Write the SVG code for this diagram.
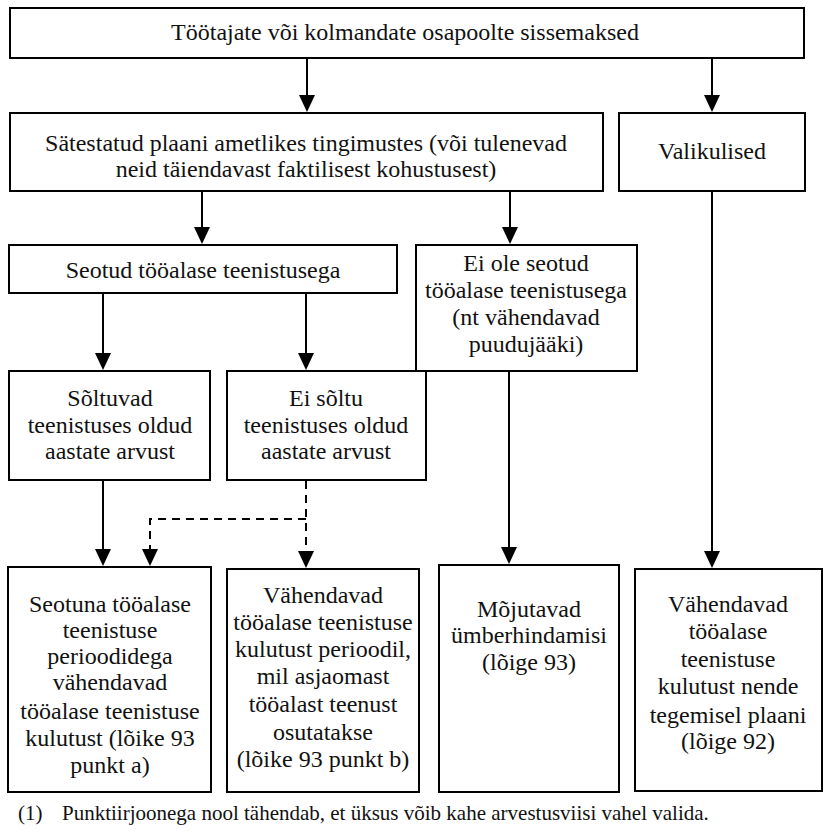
<svg xmlns="http://www.w3.org/2000/svg" width="832" height="831" viewBox="0 0 832 831">
<style>
.box{fill:#fff;stroke:#000;stroke-width:2}
.t{font-family:"Liberation Serif","Times New Roman",serif;font-size:24px;fill:#111;text-anchor:middle}
.fn{font-family:"Liberation Serif","Times New Roman",serif;font-size:21px;fill:#111}
.ln{stroke:#000;stroke-width:2;fill:none}
.dash{stroke:#000;stroke-width:2;fill:none;stroke-dasharray:8 6}
.head{fill:#000}
</style>
<defs>
<path id="ah" d="M-8,-17 L8,-17 L0,0 Z"/>
</defs>
<rect width="832" height="831" fill="#fff"/>
<g id="connectors">
<line class="ln" x1="307" y1="58" x2="307" y2="96"/><use href="#ah" x="307" y="112" class="head"/>
<line class="ln" x1="712" y1="58" x2="712" y2="96"/><use href="#ah" x="712" y="112" class="head"/>
<line class="ln" x1="202" y1="191" x2="202" y2="228"/><use href="#ah" x="202" y="244" class="head"/>
<line class="ln" x1="510" y1="191" x2="510" y2="228"/><use href="#ah" x="510" y="244" class="head"/>
<line class="ln" x1="103" y1="293" x2="103" y2="354"/><use href="#ah" x="103" y="370" class="head"/>
<line class="ln" x1="306" y1="293" x2="306" y2="354"/><use href="#ah" x="306" y="370" class="head"/>
<line class="ln" x1="103" y1="480" x2="103" y2="550"/><use href="#ah" x="103" y="566" class="head"/>
<path class="dash" d="M306,481 L306,552"/><use href="#ah" x="306" y="568" class="head"/>
<path class="dash" d="M306,519 L150,519 L150,550"/><use href="#ah" x="150" y="566" class="head"/>
<line class="ln" x1="509" y1="364" x2="509" y2="548"/><use href="#ah" x="509" y="564" class="head"/>
<line class="ln" x1="712" y1="191" x2="712" y2="552"/><use href="#ah" x="712" y="568" class="head"/>
</g>
<g id="n-top"><rect class="box" x="10" y="8" width="794" height="50"/>
<text class="t" x="405" y="40">Töötajate või kolmandate osapoolte sissemaksed</text></g>
<g id="n-plan"><rect class="box" x="10" y="113" width="593" height="78"/>
<text class="t" x="306" y="151">Sätestatud plaani ametlikes tingimustes (või tulenevad</text>
<text class="t" x="306" y="177">neid täiendavast faktilisest kohustusest)</text></g>
<g id="n-valik"><rect class="box" x="619" y="113" width="186" height="78"/>
<text class="t" x="712" y="159">Valikulised</text></g>
<g id="n-seotud"><rect class="box" x="9" y="245" width="388" height="48"/>
<text class="t" x="203" y="278">Seotud tööalase teenistusega</text></g>
<g id="n-eiole"><rect class="box" x="416" y="245" width="221" height="126"/>
<text class="t" x="526" y="271">Ei ole seotud</text>
<text class="t" x="526" y="298">tööalase teenistusega</text>
<text class="t" x="526" y="325">(nt vähendavad</text>
<text class="t" x="526" y="352">puudujääki)</text></g>
<g id="n-soltuvad"><rect class="box" x="9" y="371" width="201" height="109"/>
<text class="t" x="110" y="406">Sõltuvad</text>
<text class="t" x="110" y="433">teenistuses oldud</text>
<text class="t" x="110" y="459">aastate arvust</text></g>
<g id="n-eisoltu"><rect class="box" x="227" y="371" width="199" height="109"/>
<text class="t" x="326" y="406">Ei sõltu</text>
<text class="t" x="326" y="433">teenistuses oldud</text>
<text class="t" x="326" y="459">aastate arvust</text></g>
<g id="n-b1"><rect class="box" x="8" y="567" width="203" height="225"/>
<text class="t" x="110" y="612">Seotuna tööalase</text>
<text class="t" x="110" y="638">teenistuse</text>
<text class="t" x="110" y="664">perioodidega</text>
<text class="t" x="110" y="690">vähendavad</text>
<text class="t" x="110" y="719">tööalase teenistuse</text>
<text class="t" x="110" y="746">kulutust (lõike 93</text>
<text class="t" x="110" y="773">punkt a)</text></g>
<g id="n-b2"><rect class="box" x="227" y="569" width="192" height="223"/>
<text class="t" x="323" y="603">Vähendavad</text>
<text class="t" x="323" y="630">tööalase teenistuse</text>
<text class="t" x="323" y="657">kulutust perioodil,</text>
<text class="t" x="323" y="684">mil asjaomast</text>
<text class="t" x="323" y="712">tööalast teenust</text>
<text class="t" x="323" y="740">osutatakse</text>
<text class="t" x="323" y="767">(lõike 93 punkt b)</text></g>
<g id="n-b3"><rect class="box" x="439" y="565" width="180" height="227"/>
<text class="t" x="529" y="617">Mõjutavad</text>
<text class="t" x="529" y="643">ümberhindamisi</text>
<text class="t" x="529" y="670">(lõige 93)</text></g>
<g id="n-b4"><rect class="box" x="635" y="569" width="187" height="222"/>
<text class="t" x="728" y="612">Vähendavad</text>
<text class="t" x="728" y="639">tööalase</text>
<text class="t" x="728" y="667">teenistuse</text>
<text class="t" x="728" y="694">kulutust nende</text>
<text class="t" x="728" y="723">tegemisel plaani</text>
<text class="t" x="728" y="749">(lõige 92)</text></g>
<g id="footnote">
<text class="fn" x="18" y="820">(1)</text>
<text class="fn" x="62" y="820">Punktiirjoonega nool tähendab, et üksus võib kahe arvestusviisi vahel valida.</text>
</g>
</svg>
